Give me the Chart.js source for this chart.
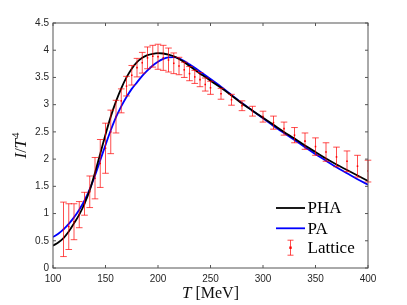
<!DOCTYPE html>
<html>
<head>
<meta charset="utf-8">
<script src="https://cdn.jsdelivr.net/npm/chart.js@4.4.0/dist/chart.umd.min.js"></script>
<style>
  html, body { margin: 0; padding: 0; background: #fff; }
  #wrap { width: 407px; height: 305px; }
</style>
</head>
<body>
<div id="wrap"><canvas id="grafica" width="407" height="305"></canvas></div>
<script>
// curvas teoricas (PHA y PA)
const curvaT = [100,105,110,115,120,125,130,135,140,145,150,155,160,165,170,175,180,185,190,195,
                200,205,210,215,220,225,230,235,240,245,250,260,270,280,290,300,310,320,330,340,
                350,360,370,380,390,400];
const phaVal = [0.41,0.47,0.55,0.67,0.82,0.98,1.18,1.43,1.75,2.10,2.45,2.78,3.06,3.30,3.50,3.66,3.78,3.86,3.91,3.935,
                3.945,3.94,3.92,3.89,3.84,3.78,3.71,3.64,3.57,3.51,3.44,3.31,3.17,3.02,2.89,2.76,2.63,2.50,2.38,2.25,
                2.13,2.01,1.90,1.80,1.70,1.60];
const paVal  = [0.57,0.63,0.71,0.81,0.93,1.07,1.24,1.45,1.70,1.98,2.26,2.53,2.77,2.97,3.14,3.29,3.41,3.53,3.63,3.72,
                3.79,3.84,3.87,3.875,3.85,3.80,3.74,3.68,3.61,3.54,3.47,3.33,3.18,3.03,2.89,2.75,2.61,2.48,2.35,2.22,
                2.09,1.97,1.85,1.74,1.63,1.53];

// datos de lattice
const latticeT   = [110,115,120,125,130,135,140,145,150,155,160,165,170,175,180,185,190,195,200,205,210,215,220,
                    225,230,235,240,245,250,260,270,280,290,300,310,320,330,340,350,360,370,380,390,400];
const latticeVal = [0.71,0.76,0.85,0.98,1.18,1.40,1.65,1.92,2.20,2.50,2.78,3.07,3.34,3.54,3.68,3.77,3.86,3.89,3.88,3.86,3.82,3.76,3.71,
                    3.64,3.57,3.51,3.46,3.37,3.31,3.20,3.09,2.98,2.88,2.78,2.67,2.56,2.44,2.33,2.23,2.13,2.04,1.96,1.87,1.78];
const latticeErr = [0.50,0.42,0.33,0.24,0.21,0.29,0.38,0.44,0.46,0.40,0.30,0.22,0.18,0.18,0.17,0.19,0.20,0.20,0.23,0.23,0.22,0.19,0.16,
                    0.14,0.13,0.12,0.13,0.12,0.12,0.10,0.10,0.09,0.09,0.10,0.12,0.12,0.14,0.15,0.16,0.17,0.18,0.19,0.20,0.20];

const ticksX = [100,150,200,250,300,350,400];
const ticksY = [0,0.5,1,1.5,2,2.5,3,3.5,4,4.5];

const SERIF = "'Liberation Serif', 'DejaVu Serif', serif";
const AXIS_COLOR = '#555';

const toXY = (xs, ys) => xs.map((x, i) => ({ x: x, y: ys[i] }));

// barras de error
const errorBars = {
  id: 'errorBars',
  afterDatasetsDraw(chart) {
    const { ctx, scales: { x, y } } = chart;
    chart.data.datasets.forEach(ds => {
      if (!ds.errors) return;
      ctx.save();
      ctx.strokeStyle = ds.borderColor;
      ctx.lineWidth = 1;
      ds.data.forEach((p, i) => {
        const e = ds.errors[i];
        const px = x.getPixelForValue(p.x);
        const y1 = y.getPixelForValue(p.y + e);
        const y2 = y.getPixelForValue(p.y - e);
        ctx.beginPath();
        ctx.moveTo(px, y1); ctx.lineTo(px, y2);
        ctx.moveTo(px - 3.3, y1); ctx.lineTo(px + 3.3, y1);
        ctx.moveTo(px - 3.3, y2); ctx.lineTo(px + 3.3, y2);
        ctx.stroke();
      });
      ctx.restore();
    });
  }
};

// caja con ticks hacia adentro (estilo matlab)
const axisBox = {
  id: 'axisBox',
  afterDraw(chart) {
    const { ctx, chartArea: a, scales: { x, y } } = chart;
    ctx.save();
    ctx.strokeStyle = AXIS_COLOR;
    ctx.lineWidth = 1;
    ctx.strokeRect(a.left, a.top, a.right - a.left, a.bottom - a.top);
    ctx.beginPath();
    ticksX.forEach(v => {
      const px = x.getPixelForValue(v);
      ctx.moveTo(px, a.bottom); ctx.lineTo(px, a.bottom - 3);
      ctx.moveTo(px, a.top); ctx.lineTo(px, a.top + 3);
    });
    ticksY.forEach(v => {
      const py = y.getPixelForValue(v);
      ctx.moveTo(a.left, py); ctx.lineTo(a.left + 3, py);
      ctx.moveTo(a.right, py); ctx.lineTo(a.right - 3, py);
    });
    ctx.stroke();
    ctx.restore();
  }
};

// titulos de los ejes con cursiva tipo LaTeX
const axisTitles = {
  id: 'axisTitles',
  afterDraw(chart) {
    const { ctx, chartArea: a } = chart;
    ctx.save();
    ctx.fillStyle = '#111';
    ctx.textBaseline = 'alphabetic';

    // eje x: T [MeV]
    const fIt = `italic 17px ${SERIF}`, fRm = `16px ${SERIF}`;
    ctx.font = fIt; const wT = ctx.measureText('T').width;
    ctx.font = fRm; const wR = ctx.measureText(' [MeV]').width;
    let x0 = (a.left + a.right) / 2 - (wT + wR) / 2;
    const by = 298;
    ctx.font = fIt; ctx.fillText('T', x0, by);
    ctx.font = fRm; ctx.fillText(' [MeV]', x0 + wT, by);

    // eje y: I/T^4
    ctx.translate(26, (a.top + a.bottom) / 2);
    ctx.rotate(-Math.PI / 2);
    const parts = [['I', fIt, 0], ['/', fRm, 0], ['T', fIt, 0], ['4', `11px ${SERIF}`, -7]];
    let total = 0;
    parts.forEach(p => { ctx.font = p[1]; total += ctx.measureText(p[0]).width + (p[0] === 'T' ? 1 : 0); });
    let cx = -total / 2;
    parts.forEach(p => {
      ctx.font = p[1];
      ctx.fillText(p[0], cx, p[2]);
      cx += ctx.measureText(p[0]).width + (p[0] === 'T' ? 1 : 0);
    });
    ctx.restore();
  }
};

// leyenda dentro del area
const leyenda = {
  id: 'leyenda',
  afterDraw(chart) {
    const { ctx, chartArea: a } = chart;
    const x0 = a.right - 92, largo = 29;
    const filas = [a.bottom - 60, a.bottom - 39.7, a.bottom - 20.3];
    ctx.save();
    ctx.font = `17px ${SERIF}`;
    ctx.textBaseline = 'middle';
    chart.data.datasets.forEach((ds, i) => {
      const yy = filas[i];
      ctx.strokeStyle = ds.borderColor;
      if (ds.errors) {
        const cx = x0 + largo / 2;
        ctx.lineWidth = 1;
        ctx.beginPath();
        ctx.moveTo(cx, yy - 7.5); ctx.lineTo(cx, yy + 7.5);
        ctx.moveTo(cx - 3, yy - 7.5); ctx.lineTo(cx + 3, yy - 7.5);
        ctx.moveTo(cx - 3, yy + 7.5); ctx.lineTo(cx + 3, yy + 7.5);
        ctx.stroke();
        ctx.fillStyle = '#ff0000';
        ctx.fillRect(cx - 1.2, yy - 1.2, 2.4, 2.4);
      } else {
        ctx.lineWidth = ds.borderWidth;
        ctx.beginPath();
        ctx.moveTo(x0, yy); ctx.lineTo(x0 + largo, yy);
        ctx.stroke();
      }
      ctx.fillStyle = '#000';
      ctx.fillText(ds.label, x0 + largo + 2.5, yy + 1);
    });
    ctx.restore();
  }
};

const tickFont = { family: "'Liberation Sans', Arial, sans-serif", size: 10 };

new Chart(document.getElementById('grafica'), {
  type: 'scatter',
  data: {
    datasets: [
      {
        label: 'PHA',
        data: toXY(curvaT, phaVal),
        showLine: true,
        borderColor: '#000000',
        borderWidth: 1.8,
        pointRadius: 0,
        cubicInterpolationMode: 'monotone'
      },
      {
        label: 'PA',
        data: toXY(curvaT, paVal),
        showLine: true,
        borderColor: '#0000ff',
        borderWidth: 1.8,
        pointRadius: 0,
        cubicInterpolationMode: 'monotone'
      },
      {
        label: 'Lattice',
        data: toXY(latticeT, latticeVal),
        errors: latticeErr,
        showLine: false,
        borderColor: 'rgba(255,0,0,0.7)',
        backgroundColor: '#ff0000',
        pointStyle: 'rect',
        pointRadius: 1.1,
        borderWidth: 0
      }
    ]
  },
  options: {
    responsive: false,
    animation: false,
    layout: { padding: { top: 23, right: 39, left: 0, bottom: 0 } },
    plugins: {
      legend: { display: false },
      tooltip: { enabled: false }
    },
    scales: {
      x: {
        type: 'linear',
        min: 100,
        max: 400,
        grid: { display: false, drawTicks: false },
        border: { display: false },
        ticks: { padding: 5, color: '#262626', font: tickFont, callback: v => String(v) },
        afterBuildTicks: s => { s.ticks = ticksX.map(v => ({ value: v })); },
        afterFit: s => { s.height = 37; }
      },
      y: {
        type: 'linear',
        min: 0,
        max: 4.5,
        grid: { display: false, drawTicks: false },
        border: { display: false },
        ticks: { padding: 4, color: '#262626', font: tickFont, callback: v => String(v) },
        afterBuildTicks: s => { s.ticks = ticksY.map(v => ({ value: v })); },
        afterFit: s => { s.width = 53; }
      }
    }
  },
  plugins: [errorBars, axisBox, axisTitles, leyenda]
});
</script>
</body>
</html>
